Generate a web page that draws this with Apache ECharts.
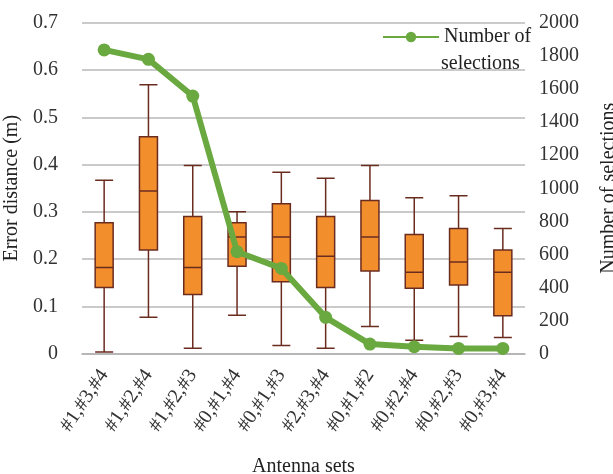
<!DOCTYPE html>
<html>
<head>
<meta charset="utf-8">
<script src="https://cdn.jsdelivr.net/npm/echarts@6/dist/echarts.min.js"></script>
<style>html,body{margin:0;padding:0;background:#fff;}#c{width:613px;height:474px;}</style>
</head>
<body>
<div id="c"></div>
<script>
const categories = ['#1,#3,#4','#1,#2,#4','#1,#2,#3','#0,#1,#4','#0,#1,#3','#2,#3,#4','#0,#1,#2','#0,#2,#4','#0,#2,#3','#0,#3,#4'];
const whiskerMin = [0.003, 0.077, 0.011, 0.081, 0.017, 0.011, 0.057, 0.028, 0.036, 0.034];
const q1 =         [0.140, 0.219, 0.125, 0.185, 0.152, 0.140, 0.175, 0.138, 0.145, 0.080];
const median =     [0.182, 0.344, 0.182, 0.247, 0.247, 0.206, 0.247, 0.172, 0.194, 0.172];
const q3 =         [0.277, 0.459, 0.290, 0.277, 0.317, 0.290, 0.324, 0.252, 0.265, 0.219];
const whiskerMax = [0.367, 0.569, 0.398, 0.300, 0.384, 0.371, 0.398, 0.330, 0.334, 0.265];
const selections = [1837, 1780, 1558, 616, 515, 219, 57, 41, 31, 31];
const leftTicks = {min: 0, max: 0.7, interval: 0.1};
const rightTicks = {min: 0, max: 2000, interval: 200};

const boxData = categories.map((c, i) => [whiskerMin[i], q1[i], median[i], q3[i], whiskerMax[i]]);
const font = 'Liberation Serif';
const chart = echarts.init(document.getElementById('c'), null, {renderer: 'canvas'});
chart.setOption({
  animation: false,
  backgroundColor: '#fff',
  textStyle: {fontFamily: font, color: '#222'},
  grid: {left: 82, right: 88, top: 23, bottom: 120.5, outerBoundsMode: 'none', containLabel: false},
  legend: {
    left: 382, top: 27, padding: 0,
    itemWidth: 56, itemHeight: 13,
    itemGap: 4,
    data: ['Number of selections'],
    formatter: () => 'Number of',
    textStyle: {fontFamily: font, fontSize: 20, color: '#222'}
  },
  graphic: [{
    type: 'text', left: 441, top: 54,
    style: {text: 'selections', fontFamily: font, fontSize: 20, fill: '#222'}
  }],
  xAxis: {
    type: 'category',
    data: categories,
    name: 'Antenna sets',
    nameLocation: 'middle',
    nameGap: 103,
    nameTextStyle: {fontFamily: font, fontSize: 20, color: '#222'},
    axisLine: {lineStyle: {color: '#b0b0b0', width: 1.5}},
    axisTick: {show: false},
    axisLabel: {rotate: 56, fontFamily: font, fontSize: 20, color: '#333', margin: 18, interval: 0}
  },
  yAxis: [{
    type: 'value', min: leftTicks.min, max: leftTicks.max, interval: leftTicks.interval,
    name: 'Error distance (m)', nameLocation: 'middle', nameGap: 57, nameRotate: 90,
    nameTextStyle: {fontFamily: font, fontSize: 20, color: '#222'},
    axisLine: {show: false}, axisTick: {show: false},
    axisLabel: {fontFamily: font, fontSize: 20, color: '#333', margin: 24},
    splitLine: {lineStyle: {color: '#b8b8b8', width: 1.5}}
  }, {
    type: 'value', min: rightTicks.min, max: rightTicks.max, interval: rightTicks.interval,
    position: 'right',
    name: 'Number of selections', nameLocation: 'middle', nameGap: 74, nameRotate: 90,
    nameTextStyle: {fontFamily: font, fontSize: 20, color: '#222'},
    axisLine: {show: false}, axisTick: {show: false},
    axisLabel: {fontFamily: font, fontSize: 20, color: '#333', margin: 14, formatter: v => String(v)},
    splitLine: {show: false}
  }],
  series: [{
    type: 'boxplot',
    name: 'Error distance',
    data: boxData,
    boxWidth: [18, 18],
    itemStyle: {color: '#F28E2B', borderColor: '#6B2C20', borderWidth: 1.5},
    z: 2
  }, {
    type: 'line',
    name: 'Number of selections',
    yAxisIndex: 1,
    data: selections,
    symbol: 'circle',
    symbolSize: 13,
    lineStyle: {color: '#6AA840', width: 6},
    itemStyle: {color: '#6AA840'},
    z: 5
  }]
});
</script>
</body>
</html>
